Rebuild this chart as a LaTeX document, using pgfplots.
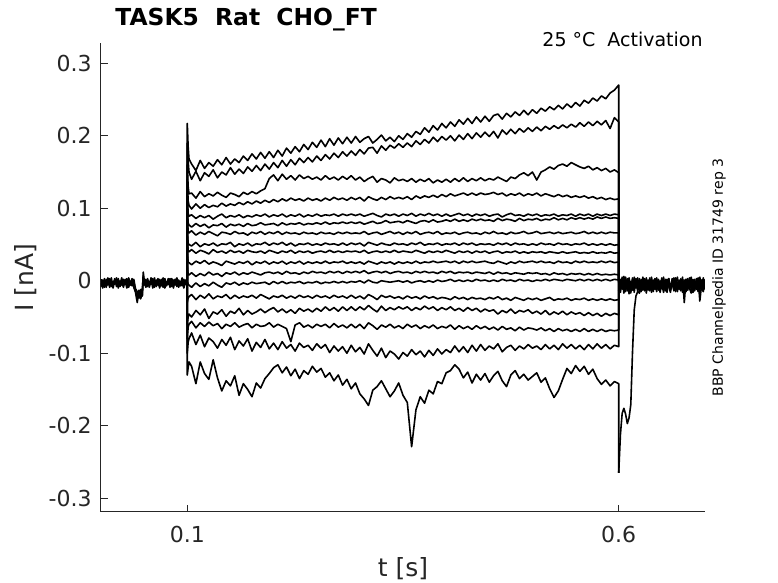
\documentclass[border=0pt]{standalone}
\usepackage{fontspec}
\setmainfont{DejaVu Sans}
\usepackage{pgfplots}
\usepackage{pgfplotstable}
\pgfplotsset{compat=1.18}
\definecolor{axc}{RGB}{38,38,38}
\pgfplotsset{tr/.style={draw=black, solid, line width=0.8pt, line join=round, mark=none}}

\pgfplotstableread{
t a b c
0.000 0.002 -0.008 -0.003
0.002 -0.007 0.001 -0.010
0.004 0.003 -0.009 0.000
0.006 -0.009 0.002 -0.006
0.008 0.000 -0.006 0.004
0.010 -0.005 0.003 -0.009
0.012 0.004 -0.008 -0.001
0.014 -0.010 -0.001 -0.005
0.016 0.001 -0.005 0.003
0.018 -0.004 0.004 -0.008
0.020 0.003 -0.010 -0.002
0.022 -0.008 0.000 -0.006
0.024 -0.001 -0.006 0.004
0.026 -0.009 0.002 -0.007
0.028 0.002 -0.004 -0.001
0.030 -0.006 0.003 -0.010
0.032 0.004 -0.009 0.001
0.034 -0.003 -0.002 -0.006
0.036 0.001 -0.007 0.003
0.038 -0.008 0.002 -0.009
0.040 -0.014 -0.011 -0.016
0.042 -0.022 -0.015 -0.030
0.044 -0.017 -0.024 -0.013
0.046 -0.025 -0.012 -0.020
0.048 -0.015 -0.021 -0.010
0.049 0.012 0.004 0.007
0.050 0.001 -0.006 -0.002
0.052 -0.007 0.002 -0.009
0.054 0.003 -0.008 0.001
0.056 -0.009 -0.001 -0.006
0.058 0.000 -0.005 0.004
0.060 -0.006 0.003 -0.010
0.062 0.004 -0.009 -0.002
0.064 -0.008 0.001 -0.005
0.066 -0.001 -0.006 0.003
0.068 -0.010 0.002 -0.008
0.070 0.002 -0.007 -0.001
0.072 -0.005 0.004 -0.009
0.074 0.003 -0.010 0.002
0.076 -0.007 -0.002 -0.006
0.078 0.001 -0.005 0.003
0.080 -0.009 0.003 -0.008
0.082 0.003 -0.008 -0.002
0.084 -0.004 0.001 -0.010
0.086 0.002 -0.006 0.002
0.088 -0.008 0.004 -0.005
0.090 0.000 -0.009 0.001
0.092 -0.006 -0.001 -0.007
0.094 0.004 -0.007 0.003
0.096 -0.010 0.002 -0.009
0.098 0.001 -0.005 -0.002
0.100 -0.003 -0.002 -0.003
}\pretab

\pgfplotstableread{
t c1 c2 c3 c4 c5 c6 c7 c8 c9 c10 c11 c12 c13 c14 c15 c16 c17
0.100 -0.002 0.001 -0.003 0.000 -0.002 0.001 -0.004 0.000 -0.001 0.002 -0.003 0.000 -0.002 0.001 -0.003 -0.001 -0.002
0.100 0.217 0.190 0.160 0.140 0.120 0.100 0.090 0.070 0.060 0.040 0.020 0.000 -0.030 -0.060 -0.080 -0.100 -0.130
0.101 0.185 0.165 0.130 0.110 0.093 0.080 0.068 0.052 0.042 0.026 0.009 -0.005 -0.024 -0.050 -0.064 -0.085 -0.120
0.102 0.168 0.150 0.120 0.104 0.089 0.077 0.066 0.050 0.040 0.025 0.008 -0.006 -0.022 -0.046 -0.060 -0.080 -0.112
0.105 0.161 0.140 0.121 0.099 0.091 0.074 0.069 0.048 0.043 0.022 0.011 -0.009 -0.019 -0.050 -0.056 -0.072 -0.118
0.110 0.152 0.151 0.114 0.106 0.086 0.079 0.063 0.053 0.038 0.027 0.006 -0.003 -0.026 -0.041 -0.065 -0.088 -0.142
0.115 0.166 0.138 0.123 0.100 0.090 0.075 0.067 0.047 0.042 0.024 0.010 -0.008 -0.020 -0.047 -0.058 -0.075 -0.112
0.120 0.155 0.149 0.116 0.105 0.087 0.078 0.064 0.051 0.040 0.028 0.007 -0.004 -0.024 -0.039 -0.063 -0.091 -0.128
0.125 0.163 0.144 0.120 0.101 0.090 0.073 0.068 0.049 0.037 0.023 0.012 -0.007 -0.018 -0.052 -0.057 -0.079 -0.136
0.130 0.158 0.153 0.117 0.104 0.085 0.077 0.065 0.052 0.043 0.026 0.008 -0.002 -0.025 -0.043 -0.062 -0.084 -0.109
0.135 0.167 0.142 0.122 0.102 0.089 0.076 0.062 0.048 0.039 0.024 0.010 -0.006 -0.021 -0.046 -0.059 -0.093 -0.134
0.140 0.160 0.150 0.118 0.107 0.092 0.079 0.067 0.051 0.041 0.021 0.006 -0.009 -0.023 -0.040 -0.066 -0.081 -0.152
0.145 0.170 0.146 0.115 0.103 0.087 0.074 0.066 0.050 0.038 0.027 0.011 -0.003 -0.019 -0.049 -0.060 -0.089 -0.138
0.150 0.161 0.156 0.121 0.106 0.090 0.078 0.064 0.053 0.042 0.025 0.009 -0.005 -0.025 -0.042 -0.063 -0.078 -0.145
0.155 0.168 0.147 0.119 0.104 0.088 0.076 0.068 0.047 0.039 0.023 0.012 -0.002 -0.020 -0.045 -0.058 -0.095 -0.131
0.160 0.163 0.154 0.116 0.108 0.091 0.078 0.065 0.051 0.041 0.026 0.008 -0.006 -0.024 -0.038 -0.064 -0.083 -0.158
0.165 0.172 0.148 0.122 0.105 0.087 0.075 0.066 0.049 0.038 0.024 0.011 -0.003 -0.021 -0.047 -0.061 -0.090 -0.142
0.170 0.166 0.157 0.119 0.109 0.090 0.079 0.063 0.052 0.042 0.027 0.009 -0.005 -0.023 -0.041 -0.059 -0.080 -0.150
0.175 0.175 0.151 0.123 0.106 0.088 0.076 0.067 0.048 0.040 0.022 0.012 -0.002 -0.020 -0.046 -0.065 -0.097 -0.160
0.180 0.168 0.159 0.120 0.110 0.091 0.077 0.065 0.051 0.039 0.026 0.010 -0.004 -0.024 -0.043 -0.060 -0.085 -0.141
0.185 0.177 0.152 0.124 0.107 0.089 0.080 0.068 0.050 0.041 0.024 0.008 -0.003 -0.019 -0.039 -0.063 -0.092 -0.148
0.190 0.169 0.161 0.127 0.111 0.092 0.077 0.064 0.053 0.038 0.027 0.011 -0.002 -0.022 -0.044 -0.062 -0.081 -0.135
0.195 0.178 0.154 0.141 0.108 0.088 0.078 0.067 0.049 0.042 0.023 0.012 -0.005 -0.025 -0.040 -0.058 -0.094 -0.128
0.200 0.170 0.163 0.146 0.112 0.091 0.079 0.065 0.052 0.040 0.026 0.010 -0.001 -0.021 -0.037 -0.064 -0.086 -0.120
0.205 0.180 0.156 0.138 0.109 0.089 0.076 0.068 0.050 0.038 0.024 0.012 -0.004 -0.023 -0.043 -0.060 -0.095 -0.116
0.210 0.172 0.166 0.147 0.113 0.092 0.080 0.064 0.053 0.041 0.027 0.009 -0.001 -0.020 -0.039 -0.063 -0.084 -0.127
0.215 0.183 0.158 0.140 0.110 0.088 0.077 0.067 0.049 0.039 0.023 0.013 -0.004 -0.024 -0.044 -0.066 -0.093 -0.119
0.220 0.176 0.167 0.145 0.114 0.091 0.079 0.065 0.052 0.042 0.026 0.010 -0.002 -0.021 -0.040 -0.084 -0.088 -0.131
0.225 0.185 0.160 0.139 0.111 0.089 0.078 0.066 0.048 0.038 0.024 0.011 -0.003 -0.024 -0.045 -0.061 -0.097 -0.122
0.230 0.178 0.169 0.146 0.113 0.092 0.080 0.064 0.051 0.041 0.027 0.009 -0.001 -0.020 -0.038 -0.058 -0.086 -0.135
0.235 0.188 0.163 0.141 0.110 0.088 0.077 0.067 0.050 0.039 0.023 0.012 -0.004 -0.023 -0.042 -0.064 -0.092 -0.124
0.240 0.181 0.170 0.144 0.114 0.091 0.079 0.065 0.052 0.041 0.026 0.010 -0.002 -0.021 -0.039 -0.061 -0.089 -0.129
0.245 0.191 0.164 0.140 0.111 0.089 0.078 0.066 0.049 0.038 0.024 0.013 -0.003 -0.024 -0.043 -0.065 -0.096 -0.118
0.250 0.184 0.172 0.143 0.113 0.092 0.080 0.064 0.051 0.040 0.026 0.011 -0.001 -0.020 -0.038 -0.060 -0.087 -0.126
0.255 0.194 0.166 0.139 0.110 0.089 0.078 0.067 0.049 0.041 0.024 0.012 -0.004 -0.023 -0.042 -0.063 -0.093 -0.121
0.260 0.185 0.174 0.145 0.114 0.091 0.081 0.065 0.052 0.039 0.027 0.010 -0.002 -0.021 -0.036 -0.060 -0.088 -0.133
0.265 0.196 0.168 0.140 0.111 0.090 0.078 0.066 0.050 0.042 0.024 0.013 -0.003 -0.024 -0.041 -0.065 -0.099 -0.127
0.270 0.187 0.176 0.143 0.115 0.092 0.080 0.064 0.051 0.039 0.026 0.011 -0.001 -0.020 -0.037 -0.059 -0.090 -0.138
0.275 0.197 0.170 0.139 0.112 0.089 0.079 0.067 0.049 0.041 0.025 0.013 -0.003 -0.023 -0.042 -0.064 -0.097 -0.130
0.280 0.189 0.178 0.144 0.114 0.092 0.081 0.065 0.052 0.039 0.027 0.010 -0.001 -0.021 -0.036 -0.061 -0.091 -0.144
0.285 0.198 0.172 0.140 0.111 0.090 0.079 0.067 0.049 0.041 0.024 0.013 -0.003 -0.024 -0.041 -0.065 -0.100 -0.136
0.290 0.190 0.179 0.145 0.115 0.092 0.081 0.065 0.052 0.040 0.026 0.011 -0.001 -0.020 -0.036 -0.060 -0.089 -0.149
0.295 0.199 0.173 0.139 0.112 0.090 0.079 0.066 0.050 0.041 0.024 0.013 -0.002 -0.024 -0.041 -0.065 -0.098 -0.141
0.300 0.191 0.181 0.143 0.115 0.092 0.081 0.065 0.052 0.039 0.026 0.011 0.000 -0.021 -0.036 -0.060 -0.092 -0.156
0.305 0.196 0.175 0.137 0.110 0.089 0.078 0.068 0.048 0.042 0.023 0.014 -0.003 -0.025 -0.040 -0.066 -0.101 -0.163
0.310 0.199 0.183 0.141 0.116 0.091 0.080 0.064 0.053 0.038 0.027 0.010 0.001 -0.019 -0.034 -0.058 -0.087 -0.172
0.315 0.190 0.184 0.144 0.113 0.093 0.082 0.066 0.051 0.040 0.025 0.012 -0.002 -0.022 -0.039 -0.062 -0.096 -0.151
0.320 0.195 0.176 0.136 0.111 0.090 0.079 0.067 0.049 0.041 0.023 0.013 -0.003 -0.026 -0.043 -0.067 -0.104 -0.146
0.325 0.201 0.186 0.141 0.115 0.088 0.080 0.064 0.052 0.039 0.026 0.011 0.000 -0.020 -0.035 -0.061 -0.093 -0.138
0.330 0.193 0.180 0.139 0.112 0.092 0.083 0.066 0.050 0.041 0.024 0.013 -0.001 -0.023 -0.041 -0.064 -0.106 -0.149
0.335 0.198 0.187 0.135 0.116 0.090 0.080 0.068 0.049 0.039 0.026 0.010 -0.002 -0.021 -0.037 -0.060 -0.097 -0.160
0.340 0.192 0.183 0.142 0.113 0.092 0.081 0.065 0.052 0.042 0.023 0.012 -0.001 -0.024 -0.040 -0.065 -0.101 -0.152
0.345 0.200 0.189 0.138 0.115 0.089 0.082 0.067 0.050 0.039 0.026 0.013 0.000 -0.022 -0.036 -0.062 -0.108 -0.141
0.350 0.195 0.184 0.140 0.113 0.092 0.080 0.064 0.051 0.041 0.024 0.011 -0.002 -0.025 -0.039 -0.066 -0.099 -0.158
0.355 0.203 0.190 0.137 0.116 0.090 0.083 0.067 0.049 0.040 0.026 0.012 0.000 -0.021 -0.036 -0.060 -0.104 -0.168
0.360 0.198 0.185 0.141 0.112 0.093 0.081 0.065 0.052 0.039 0.024 0.010 -0.003 -0.024 -0.041 -0.064 -0.095 -0.229
0.365 0.206 0.193 0.136 0.117 0.089 0.079 0.068 0.050 0.042 0.027 0.013 -0.001 -0.022 -0.037 -0.061 -0.102 -0.178
0.370 0.202 0.188 0.140 0.114 0.092 0.082 0.064 0.053 0.040 0.024 0.011 0.000 -0.025 -0.040 -0.066 -0.097 -0.160
0.375 0.211 0.195 0.137 0.117 0.090 0.083 0.066 0.049 0.038 0.026 0.013 -0.002 -0.021 -0.035 -0.062 -0.105 -0.169
0.380 0.205 0.190 0.141 0.115 0.093 0.081 0.067 0.051 0.041 0.025 0.011 0.000 -0.024 -0.039 -0.065 -0.096 -0.151
0.385 0.214 0.198 0.135 0.118 0.090 0.084 0.065 0.050 0.039 0.027 0.012 -0.002 -0.022 -0.036 -0.061 -0.103 -0.156
0.390 0.208 0.192 0.139 0.115 0.092 0.081 0.068 0.052 0.041 0.025 0.010 0.001 -0.025 -0.041 -0.066 -0.094 -0.139
0.395 0.217 0.199 0.136 0.119 0.089 0.082 0.064 0.049 0.039 0.026 0.013 -0.001 -0.023 -0.037 -0.063 -0.101 -0.142
0.400 0.211 0.194 0.140 0.116 0.092 0.084 0.066 0.051 0.042 0.027 0.011 0.000 -0.024 -0.040 -0.065 -0.095 -0.127
0.405 0.219 0.200 0.136 0.120 0.089 0.082 0.065 0.050 0.040 0.025 0.013 0.002 -0.026 -0.036 -0.061 -0.099 -0.124
0.410 0.213 0.193 0.141 0.117 0.091 0.085 0.067 0.052 0.038 0.027 0.010 -0.001 -0.022 -0.041 -0.067 -0.090 -0.116
0.415 0.222 0.201 0.137 0.119 0.093 0.082 0.064 0.049 0.041 0.024 0.012 0.001 -0.025 -0.038 -0.062 -0.098 -0.122
0.420 0.216 0.195 0.142 0.121 0.090 0.084 0.066 0.052 0.039 0.027 0.011 -0.001 -0.023 -0.042 -0.066 -0.091 -0.134
0.425 0.224 0.203 0.137 0.118 0.092 0.082 0.067 0.050 0.041 0.025 0.012 0.001 -0.026 -0.037 -0.063 -0.099 -0.126
0.430 0.217 0.196 0.141 0.121 0.089 0.085 0.065 0.052 0.038 0.027 0.010 -0.001 -0.023 -0.041 -0.067 -0.089 -0.141
0.435 0.226 0.204 0.138 0.118 0.092 0.083 0.066 0.049 0.041 0.025 0.012 0.002 -0.025 -0.038 -0.062 -0.097 -0.129
0.440 0.219 0.198 0.142 0.121 0.090 0.085 0.064 0.051 0.039 0.026 0.011 0.000 -0.024 -0.043 -0.066 -0.088 -0.137
0.445 0.227 0.205 0.138 0.119 0.092 0.083 0.067 0.050 0.041 0.027 0.010 0.001 -0.026 -0.039 -0.063 -0.096 -0.128
0.450 0.220 0.199 0.141 0.120 0.089 0.084 0.065 0.051 0.038 0.025 0.012 -0.001 -0.023 -0.042 -0.067 -0.090 -0.140
0.455 0.228 0.206 0.139 0.122 0.091 0.082 0.068 0.049 0.040 0.024 0.009 0.001 -0.025 -0.040 -0.064 -0.094 -0.131
0.460 0.230 0.197 0.143 0.119 0.092 0.086 0.065 0.052 0.041 0.027 0.012 -0.001 -0.022 -0.046 -0.068 -0.087 -0.125
0.465 0.223 0.208 0.140 0.121 0.088 0.083 0.066 0.050 0.038 0.025 0.010 0.002 -0.026 -0.041 -0.063 -0.098 -0.138
0.470 0.231 0.202 0.137 0.117 0.091 0.085 0.064 0.052 0.040 0.023 0.011 0.000 -0.024 -0.044 -0.067 -0.092 -0.146
0.475 0.226 0.209 0.143 0.120 0.093 0.084 0.067 0.049 0.039 0.026 0.009 0.001 -0.027 -0.039 -0.065 -0.089 -0.130
0.480 0.233 0.203 0.141 0.118 0.090 0.082 0.065 0.052 0.041 0.024 0.011 -0.001 -0.023 -0.045 -0.069 -0.096 -0.124
0.485 0.228 0.210 0.146 0.121 0.091 0.086 0.066 0.050 0.038 0.027 0.010 0.002 -0.025 -0.041 -0.064 -0.090 -0.135
0.490 0.235 0.205 0.149 0.117 0.089 0.083 0.068 0.051 0.040 0.025 0.009 0.000 -0.027 -0.043 -0.068 -0.094 -0.129
0.495 0.229 0.211 0.145 0.120 0.092 0.085 0.065 0.049 0.038 0.026 0.011 0.001 -0.024 -0.040 -0.065 -0.088 -0.137
0.500 0.236 0.206 0.150 0.118 0.090 0.084 0.066 0.051 0.040 0.027 0.010 -0.001 -0.026 -0.045 -0.066 -0.093 -0.132
0.505 0.231 0.212 0.139 0.121 0.092 0.086 0.068 0.049 0.039 0.025 0.011 0.001 -0.024 -0.042 -0.068 -0.090 -0.127
0.510 0.238 0.207 0.150 0.117 0.089 0.083 0.065 0.052 0.040 0.027 0.009 0.000 -0.027 -0.046 -0.065 -0.095 -0.140
0.515 0.234 0.213 0.153 0.120 0.091 0.085 0.066 0.050 0.038 0.025 0.010 0.002 -0.025 -0.041 -0.069 -0.088 -0.134
0.520 0.240 0.209 0.157 0.118 0.090 0.084 0.067 0.051 0.040 0.026 0.008 0.000 -0.023 -0.047 -0.066 -0.094 -0.149
0.525 0.236 0.214 0.154 0.116 0.092 0.087 0.065 0.049 0.039 0.024 0.011 0.002 -0.027 -0.043 -0.070 -0.089 -0.161
0.530 0.242 0.210 0.159 0.119 0.089 0.084 0.067 0.052 0.038 0.027 0.009 0.001 -0.025 -0.046 -0.066 -0.095 -0.152
0.535 0.237 0.215 0.161 0.116 0.091 0.086 0.065 0.050 0.040 0.025 0.010 0.000 -0.026 -0.042 -0.069 -0.087 -0.136
0.540 0.244 0.211 0.158 0.118 0.090 0.084 0.066 0.051 0.038 0.026 0.008 0.002 -0.024 -0.047 -0.067 -0.093 -0.121
0.545 0.239 0.216 0.163 0.115 0.092 0.087 0.067 0.049 0.039 0.024 0.010 0.001 -0.027 -0.043 -0.070 -0.088 -0.128
0.550 0.246 0.212 0.160 0.117 0.089 0.085 0.065 0.051 0.040 0.027 0.009 0.000 -0.025 -0.046 -0.067 -0.094 -0.117
0.555 0.241 0.218 0.157 0.115 0.092 0.087 0.066 0.050 0.038 0.025 0.010 0.002 -0.026 -0.044 -0.070 -0.089 -0.125
0.560 0.249 0.213 0.155 0.117 0.090 0.085 0.068 0.052 0.039 0.027 0.008 0.000 -0.024 -0.048 -0.066 -0.095 -0.118
0.565 0.245 0.219 0.158 0.114 0.092 0.087 0.065 0.049 0.038 0.025 0.010 0.002 -0.027 -0.044 -0.070 -0.088 -0.129
0.570 0.252 0.214 0.153 0.116 0.089 0.085 0.067 0.051 0.040 0.026 0.008 0.000 -0.025 -0.048 -0.067 -0.094 -0.122
0.575 0.248 0.220 0.156 0.113 0.092 0.088 0.065 0.049 0.038 0.025 0.010 0.002 -0.027 -0.045 -0.070 -0.087 -0.135
0.580 0.255 0.215 0.152 0.115 0.090 0.086 0.067 0.051 0.039 0.027 0.008 0.000 -0.025 -0.049 -0.067 -0.093 -0.143
0.585 0.251 0.221 0.155 0.112 0.092 0.088 0.065 0.049 0.038 0.025 0.009 0.002 -0.027 -0.045 -0.070 -0.088 -0.137
0.590 0.259 0.210 0.150 0.114 0.090 0.086 0.067 0.051 0.040 0.027 0.008 0.000 -0.025 -0.048 -0.068 -0.094 -0.145
0.595 0.263 0.225 0.153 0.112 0.092 0.087 0.066 0.049 0.038 0.025 0.009 0.002 -0.027 -0.045 -0.069 -0.089 -0.139
0.600 0.270 0.219 0.149 0.113 0.091 0.086 0.066 0.050 0.039 0.026 0.008 0.001 -0.026 -0.047 -0.068 -0.091 -0.142
0.600 0.002 -0.003 0.001 -0.002 0.003 -0.004 0.000 0.002 -0.001 0.003 -0.002 0.001 -0.004 0.002 -0.003 0.001 -0.265
}\steptab

\pgfplotstableread{
t p b1 b2 b3
0.600 -0.265 0.004 -0.014 -0.002
0.602 -0.212 -0.016 0.002 -0.011
0.604 -0.183 0.003 -0.012 0.005
0.606 -0.176 -0.013 0.006 -0.017
0.608 -0.184 0.005 -0.015 -0.001
0.610 -0.197 -0.011 0.003 -0.014
0.612 -0.189 0.002 -0.018 0.004
0.614 -0.171 -0.017 -0.001 -0.009
0.616 -0.098 0.004 -0.013 0.002
0.618 -0.040 -0.012 0.005 -0.016
0.620 -0.021 0.001 -0.010 0.003
0.622 -0.015 -0.015 0.004 -0.012
0.624 -0.017 0.003 -0.016 0.001
0.626 -0.008 -0.010 0.002 -0.015
0.628 -0.013 0.005 -0.011 -0.003
0.630 -0.004 -0.014 0.003 -0.010
0.632 -0.011 0.002 -0.017 0.004
0.634 -0.002 -0.009 0.001 -0.013
0.636 -0.014 0.004 -0.012 0.002
0.638 -0.005 -0.016 0.005 -0.008
0.640 -0.012 0.001 -0.010 -0.015
0.642 0.002 -0.012 -0.003 0.003
0.644 -0.010 0.004 -0.015 -0.011
0.646 -0.003 -0.013 0.002 0.001
0.648 -0.016 0.000 -0.009 -0.014
0.650 0.001 -0.011 0.004 -0.004
0.652 -0.009 0.005 -0.013 -0.016
0.654 -0.002 -0.014 -0.001 0.002
0.656 -0.015 0.002 -0.016 -0.010
0.658 0.003 -0.008 0.003 0.000
0.660 -0.011 -0.016 -0.012 -0.013
0.662 -0.004 0.003 0.002 -0.005
0.664 -0.013 -0.010 -0.014 0.004
0.666 0.000 0.004 -0.003 -0.015
0.668 -0.010 -0.015 0.005 -0.002
0.670 -0.003 0.001 -0.011 -0.012
0.672 -0.014 -0.012 -0.004 0.003
0.674 0.002 0.005 -0.016 -0.009
0.676 -0.008 -0.030 0.001 -0.014
0.678 -0.015 0.002 -0.013 0.002
0.680 -0.001 -0.013 0.003 -0.011
0.682 -0.012 0.004 -0.010 -0.003
0.684 -0.004 -0.011 -0.017 0.005
0.686 -0.016 0.001 0.002 -0.016
0.688 0.002 -0.014 -0.012 -0.001
0.690 -0.010 0.003 -0.002 -0.012
0.692 -0.003 -0.012 -0.015 0.004
0.694 -0.013 0.005 0.001 -0.028
0.696 0.001 -0.010 -0.011 -0.006
0.698 -0.009 -0.015 0.004 -0.013
0.700 -0.004 0.002 -0.012 -0.002
}\posttab

\begin{document}
\begin{tikzpicture}
\path[use as bounding box] (-50.5pt,-35.5pt) rectangle (338.5pt,256pt);
\begin{axis}[
  at={(0,0)}, anchor=south west,
  scale only axis, width=302pt, height=234.5pt,
  xmin=0, xmax=0.7, ymin=-0.319, ymax=0.328,
  axis x line*=bottom, axis y line*=left,
  axis line style={axc, line width=0.5pt},
  tick style={axc, line width=0.5pt},
  tick align=inside, major tick length=3.5pt,
  xtick={0.1,0.6}, xticklabels={0.1,0.6},
  ytick={-0.3,-0.2,-0.1,0,0.1,0.2,0.3},
  yticklabels={-0.3,-0.2,-0.1,{0\hspace{11.5pt}},{0.1\hspace{4pt}},{0.2\hspace{4pt}},{0.3\hspace{4pt}}},
  ticklabel style={font=\fontsize{11}{13}\selectfont, text=axc},
  yticklabel style={anchor=east, inner sep=0pt, xshift=-4.5pt},
  xticklabel style={anchor=north, inner sep=0pt, yshift=-7pt},
  xlabel={t [s]}, ylabel={I [nA]},
  label style={font=\fontsize{12.5}{15}\selectfont, text=axc, inner sep=0pt},
  xlabel style={at={(axis description cs:0.5,-0.1365)}, anchor=base},
  ylabel style={at={(axis description cs:-0.111,0.5)}, anchor=base, rotate=0},
]
\addplot[tr] table[x=t,y=a] {\pretab};
\addplot[tr] table[x=t,y=b] {\pretab};
\addplot[tr] table[x=t,y=c] {\pretab};
\addplot[tr] table[x=t,y=c1] {\steptab};
\addplot[tr] table[x=t,y=c2] {\steptab};
\addplot[tr] table[x=t,y=c3] {\steptab};
\addplot[tr] table[x=t,y=c4] {\steptab};
\addplot[tr] table[x=t,y=c5] {\steptab};
\addplot[tr] table[x=t,y=c6] {\steptab};
\addplot[tr] table[x=t,y=c7] {\steptab};
\addplot[tr] table[x=t,y=c8] {\steptab};
\addplot[tr] table[x=t,y=c9] {\steptab};
\addplot[tr] table[x=t,y=c10] {\steptab};
\addplot[tr] table[x=t,y=c11] {\steptab};
\addplot[tr] table[x=t,y=c12] {\steptab};
\addplot[tr] table[x=t,y=c13] {\steptab};
\addplot[tr] table[x=t,y=c14] {\steptab};
\addplot[tr] table[x=t,y=c15] {\steptab};
\addplot[tr] table[x=t,y=c16] {\steptab};
\addplot[tr] table[x=t,y=c17] {\steptab};
\addplot[tr] table[x=t,y=p] {\posttab};
\addplot[tr] table[x=t,y=b1] {\posttab};
\addplot[tr] table[x=t,y=b2] {\posttab};
\addplot[tr] table[x=t,y=b3] {\posttab};
\end{axis}
\node[anchor=base west, inner sep=0pt, font=\bfseries\fontsize{11.7}{14}\selectfont] at (7pt,243pt) {TASK5\ \ Rat\ \ CHO\_FT};
\node[anchor=base east, inner sep=0pt, font=\fontsize{9.5}{11}\selectfont] at (301pt,232.5pt) {25 °C\ \ Activation};
\node[rotate=90, inner sep=0pt, font=\fontsize{7}{8}\selectfont] at (309pt,117.25pt) {BBP Channelpedia ID 31749 rep 3};
\end{tikzpicture}
\end{document}
